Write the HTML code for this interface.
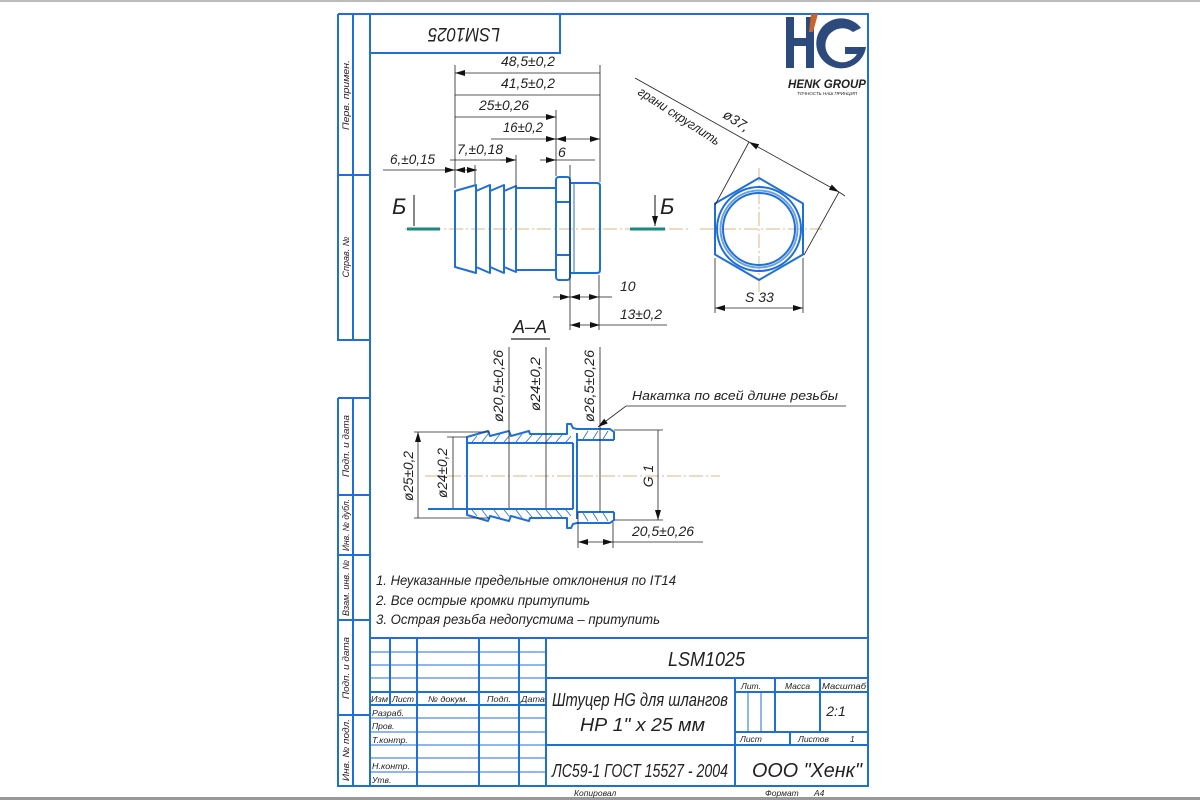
<!DOCTYPE html>
<html><head><meta charset="utf-8"><style>
html,body{margin:0;padding:0;background:#fff;}
svg{display:block}
text{font-family:"Liberation Sans Narrow","Liberation Sans",sans-serif;font-style:italic;fill:#222;}
</style></head><body>
<svg width="1200" height="800" viewBox="0 0 1200 800" xmlns="http://www.w3.org/2000/svg">
<defs>
<marker id="a" viewBox="0 0 10 6" refX="10" refY="3" markerWidth="10" markerHeight="6" markerUnits="userSpaceOnUse" orient="auto-start-reverse"><path d="M0,0 L10,3 L0,6 Z" fill="#111"/></marker>
</defs>
<rect x="0" y="0" width="1200" height="2" fill="#bbb"/>
<rect x="0" y="797" width="1200" height="3" fill="#999"/>
<g stroke="#1f6fd8" stroke-width="2" fill="none">
<rect x="370" y="14" width="498" height="772"/>
<path d="M338,14 V340 H370 M353,14 V340 M338,175 H370 M338,14 H370"/>
<path d="M338,398 H370 M338,398 V786 H370 M353,398 V786 M338,495 H370 M338,555 H370 M338,620 H370 M338,715 H370"/>
<path d="M370,53 H560 V14"/>
<path d="M370,638 H868 M546,638 V786 M735,678 V786 M546,678 H868 M370,692 H546 M370,705 H546 M735,692 H868 M546,745 H868 M735,732 H868 M775,678 V732 M820,678 V732 M790,732 V745 M390,638 V705 M417,638 V786 M479,638 V786 M519,638 V786"/>
</g>
<g stroke="#1f6fd8" stroke-width="1" fill="none">
<path d="M370,652 H546 M370,665 H546 M370,678 H546 M370,718 H546 M370,732 H546 M370,745 H546 M370,758 H546 M370,772 H546 M748,692 V732 M761,692 V732"/>
</g>
<g font-size="9">
<text transform="translate(349,95) rotate(-90)" text-anchor="middle" textLength="70" lengthAdjust="spacingAndGlyphs">Перв. примен.</text>
<text transform="translate(349,257) rotate(-90)" text-anchor="middle">Справ. №</text>
<text transform="translate(349,446) rotate(-90)" text-anchor="middle" textLength="62" lengthAdjust="spacingAndGlyphs">Подп. и дата</text>
<text transform="translate(349,525) rotate(-90)" text-anchor="middle" textLength="52" lengthAdjust="spacingAndGlyphs">Инв. № дубл.</text>
<text transform="translate(349,588) rotate(-90)" text-anchor="middle" textLength="56" lengthAdjust="spacingAndGlyphs">Взам. инв. №</text>
<text transform="translate(349,668) rotate(-90)" text-anchor="middle" textLength="62" lengthAdjust="spacingAndGlyphs">Подп. и дата</text>
<text transform="translate(349,750) rotate(-90)" text-anchor="middle" textLength="62" lengthAdjust="spacingAndGlyphs">Инв. № подл.</text>
</g>
<text transform="translate(464,33) rotate(180)" font-size="19" text-anchor="middle" dominant-baseline="middle" textLength="72" lengthAdjust="spacingAndGlyphs">LSM1025</text>
<g fill="#2c4a7c">
<rect x="786" y="17" width="8" height="51"/><rect x="806" y="17" width="8" height="51"/><rect x="786" y="38" width="26" height="8"/>
<path d="M861,28 A25,25 0 1 0 866,47 H845 V54 H857 A17,17 0 1 1 853,32 Z"/>
</g>
<path d="M811,14 H818 L813,32 H809 Z" fill="#c8642c"/>
<text x="827" y="88" font-size="11.5" font-style="normal" font-weight="bold" fill="#2c4a7c" text-anchor="middle" style="font-family:'Liberation Sans',sans-serif">HENK GROUP</text>
<text x="827" y="95" font-size="4.5" font-style="normal" fill="#555" text-anchor="middle" style="font-family:'Liberation Sans',sans-serif">ТОЧНОСТЬ НАШ ПРИНЦИП</text>

<g stroke="#d9b98a" stroke-width="1" stroke-dasharray="14,3,2,3" fill="none">
<path d="M405,229 H690 M700,229 H822 M759,168 V292 M425,476 H720"/>
</g>
<g stroke="#1a8a7a" stroke-width="3"><path d="M407,229 H440 M630,229 H665"/></g>
<g stroke="#111" stroke-width="1"><path d="M414,195 V226 M655,195 V226" marker-end="url(#a)"/></g>
<text x="392" y="214" font-size="22" font-style="normal">Б</text>
<text x="660" y="214" font-size="22" font-style="normal">Б</text>

<g stroke="#1f6fd8" stroke-width="2" fill="none" stroke-linejoin="round">
<path d="M455,191 L476,185 L476,273 L455,267 Z"/>
<path d="M476,191 L490,185 L490,273 L476,267"/>
<path d="M490,191 L504,185 L504,273 L490,267"/>
<path d="M504,191 L516,186 L516,272 L504,267"/>
<path d="M516,188 H556 M516,270 H556"/>
<rect x="556" y="177" width="14" height="103" rx="3"/>
<path d="M556,202 H570 M556,255 H570"/>
<path d="M570,183 H597 Q600,183 600,186 V270 Q600,273 597,273 H570"/>
<path d="M574,183 V273" stroke-width="1"/>
<polygon points="759,178 803,203.5 803,254.5 759,280 715,254.5 715,203.5"/>
<circle cx="759" cy="229" r="42"/><circle cx="759" cy="229" r="38.5" stroke="#6aa0e0"/><circle cx="759" cy="229" r="36"/>
</g>

<g stroke="#222" stroke-width="0.8" fill="none">
<path d="M455,65 V188 M600,65 V182 M556,110 V176 M516,155 V187 M475,165 V184 M570,165 V330 M599,275 V330"/>
<path d="M455,73 H600 M455,95 H600 M455,117 H556" marker-start="url(#a)" marker-end="url(#a)"/>
<path d="M491,139 H556" marker-end="url(#a)"/><path d="M556,139 H600" marker-start="url(#a)" marker-end="url(#a)"/>
<path d="M450,160 H516" /><path d="M500,160 H516" marker-end="url(#a)"/><path d="M540,160 H556" marker-end="url(#a)"/><path d="M556,160 H595"/>
<path d="M383,170 H455" marker-end="url(#a)"/><path d="M455,170 H477" marker-start="url(#a)" marker-end="url(#a)"/>
<path d="M553,297 H570" marker-end="url(#a)"/><path d="M570,297 H599" marker-start="url(#a)" marker-end="url(#a)"/><path d="M599,297 H612"/>
<path d="M570,325 H600" marker-start="url(#a)" marker-end="url(#a)"/><path d="M600,325 H667"/>
<path d="M715,258 V313 M803,258 V313"/>
<path d="M715,308 H803" marker-start="url(#a)" marker-end="url(#a)"/>
<path d="M635,78 L749,142"/>
<path d="M749,142 L839,192" marker-start="url(#a)" marker-end="url(#a)"/>
<path d="M839,192 L845,196"/>
<path d="M749,142 L715,205 M839,192 L804,255"/>
</g>
<g font-size="14">
<text x="501" y="66" textLength="54" lengthAdjust="spacingAndGlyphs">48,5±0,2</text>
<text x="501" y="88" textLength="54" lengthAdjust="spacingAndGlyphs">41,5±0,2</text>
<text x="479" y="110" textLength="50" lengthAdjust="spacingAndGlyphs">25±0,26</text>
<text x="503" y="132" textLength="40" lengthAdjust="spacingAndGlyphs">16±0,2</text>
<text x="457" y="154" textLength="46" lengthAdjust="spacingAndGlyphs">7,±0,18</text>
<text x="558" y="157">6</text>
<text x="390" y="164" textLength="45" lengthAdjust="spacingAndGlyphs">6,±0,15</text>
<text x="620" y="291">10</text>
<text x="620" y="319" textLength="42" lengthAdjust="spacingAndGlyphs">13±0,2</text>
<text x="745" y="302">S 33</text>
<text transform="translate(722,117) rotate(33)">ø37,</text>
<text transform="translate(637,94) rotate(33)" font-size="13" textLength="95" lengthAdjust="spacingAndGlyphs">грани скруглить</text>
</g>
<text x="513" y="333" font-size="18">А–А</text>
<path d="M511,339 H550" stroke="#222" stroke-width="1.2"/>

<g stroke="#1f6fd8" stroke-width="2" fill="none" stroke-linejoin="round">
<path d="M467,443 V437 L488,431 L490,436 L509,431 L511,436 L529,431 L530,434 H567 V424 H571 L573,428 L577,429 H580 V429 H610 L614,432 V440"/>
<path d="M467,443 H573 M577,440 H614"/>
<g transform="translate(0,952) scale(1,-1)">
<path d="M467,443 V437 L488,431 L490,436 L509,431 L511,436 L529,431 L530,434 H567 V424 H571 L573,428 L577,429 H580 V429 H610 L614,432 V440"/>
<path d="M467,443 H573 M577,440 H614"/>
</g>
<path d="M467,443 V509 M573,443 V509 M577,433 V519 M428,509 H467"/>
</g>
<g stroke="#1f6fd8" stroke-width="0.8">
<path d="M472,442 L477,436 M482,442 L488,434 M494,442 L500,434 M504,442 L510,435 M516,442 L522,434 M526,442 L532,435 M536,442 L542,435 M546,442 L552,435 M556,442 L562,435 M566,442 L571,436 M583,439 L588,431 M593,439 L598,431 M603,439 L608,431"/>
<path d="M472,510 L477,516 M482,510 L488,518 M494,510 L500,518 M504,510 L510,517 M516,510 L522,518 M526,510 L532,517 M536,510 L542,517 M546,510 L552,517 M556,510 L562,517 M566,510 L571,516 M583,513 L588,521 M593,513 L598,521 M603,513 L608,521"/>
</g>
<g stroke="#222" stroke-width="0.8" fill="none">
<path d="M414,432 H490 M414,518 H490 M447,437 H467 M614,430 H663 M614,520 H663 M578,512 V548 M613,522 V548"/>
<path d="M418,432 V518 M453,437 V508 M509,443 V508 M546,443 V508 M600,440 V512 M658,430 V520" marker-start="url(#a)" marker-end="url(#a)"/>
<path d="M509,347 V443 M546,347 V443 M600,347 V440"/>
<path d="M578,542 H613" marker-start="url(#a)" marker-end="url(#a)"/><path d="M613,542 H703"/>
<path d="M846,406 H626 L598,427" marker-end="url(#a)"/>
</g>
<g font-size="14">
<text transform="translate(413,476) rotate(-90)" text-anchor="middle" textLength="50" lengthAdjust="spacingAndGlyphs">ø25±0,2</text>
<text transform="translate(447,473) rotate(-90)" text-anchor="middle" textLength="50" lengthAdjust="spacingAndGlyphs">ø24±0,2</text>
<text transform="translate(503,386) rotate(-90)" text-anchor="middle" textLength="72" lengthAdjust="spacingAndGlyphs">ø20,5±0,26</text>
<text transform="translate(540,384) rotate(-90)" text-anchor="middle" textLength="54" lengthAdjust="spacingAndGlyphs">ø24±0,2</text>
<text transform="translate(594,386) rotate(-90)" text-anchor="middle" textLength="72" lengthAdjust="spacingAndGlyphs">ø26,5±0,26</text>
<text transform="translate(653,476) rotate(-90)" text-anchor="middle">G 1</text>
<text x="632" y="536" textLength="62" lengthAdjust="spacingAndGlyphs">20,5±0,26</text>
<text x="632" y="400" font-size="13" textLength="206" lengthAdjust="spacingAndGlyphs">Накатка по всей длине резьбы</text>
<text x="376" y="585" textLength="300" lengthAdjust="spacingAndGlyphs">1. Неуказанные предельные отклонения по IT14</text>
<text x="376" y="605" textLength="214" lengthAdjust="spacingAndGlyphs">2. Все острые кромки притупить</text>
<text x="376" y="624" textLength="284" lengthAdjust="spacingAndGlyphs">3. Острая резьба недопустима – притупить</text>
</g>
<g font-size="8.5">
<text x="371" y="702" textLength="17" lengthAdjust="spacingAndGlyphs">Изм</text><text x="392" y="702" textLength="22" lengthAdjust="spacingAndGlyphs">Лист</text><text x="428" y="702" textLength="40" lengthAdjust="spacingAndGlyphs">№ докум.</text><text x="487" y="702" textLength="24" lengthAdjust="spacingAndGlyphs">Подп.</text><text x="521" y="702" textLength="24" lengthAdjust="spacingAndGlyphs">Дата</text>
<text x="372" y="716" textLength="32" lengthAdjust="spacingAndGlyphs">Разраб.</text><text x="372" y="729">Пров.</text><text x="372" y="743" textLength="36" lengthAdjust="spacingAndGlyphs">Т.контр.</text><text x="372" y="769" textLength="38" lengthAdjust="spacingAndGlyphs">Н.контр.</text><text x="372" y="783">Утв.</text>
<text x="741" y="689">Лит.</text><text x="785" y="689">Масса</text><text x="822" y="689" textLength="44" lengthAdjust="spacingAndGlyphs">Масштаб</text>
<text x="740" y="742">Лист</text><text x="798" y="742">Листов</text><text x="850" y="742">1</text>
<text x="574" y="796">Копировал</text><text x="765" y="796">Формат</text><text x="814" y="796">A4</text>
</g>
<text x="836" y="716" font-size="14" text-anchor="middle">2:1</text>
<text x="668" y="666" font-size="20" textLength="77" lengthAdjust="spacingAndGlyphs">LSM1025</text>
<text x="552" y="706" font-size="18" textLength="176" lengthAdjust="spacingAndGlyphs">Штуцер HG для шлангов</text>
<text x="580" y="731" font-size="18" textLength="125" lengthAdjust="spacingAndGlyphs">НР 1" х 25 мм</text>
<text x="552" y="777" font-size="18" textLength="176" lengthAdjust="spacingAndGlyphs">ЛС59-1 ГОСТ 15527 - 2004</text>
<text x="752" y="777" font-size="20" textLength="110" lengthAdjust="spacingAndGlyphs">ООО "Хенк"</text>
</svg>
</body></html>
